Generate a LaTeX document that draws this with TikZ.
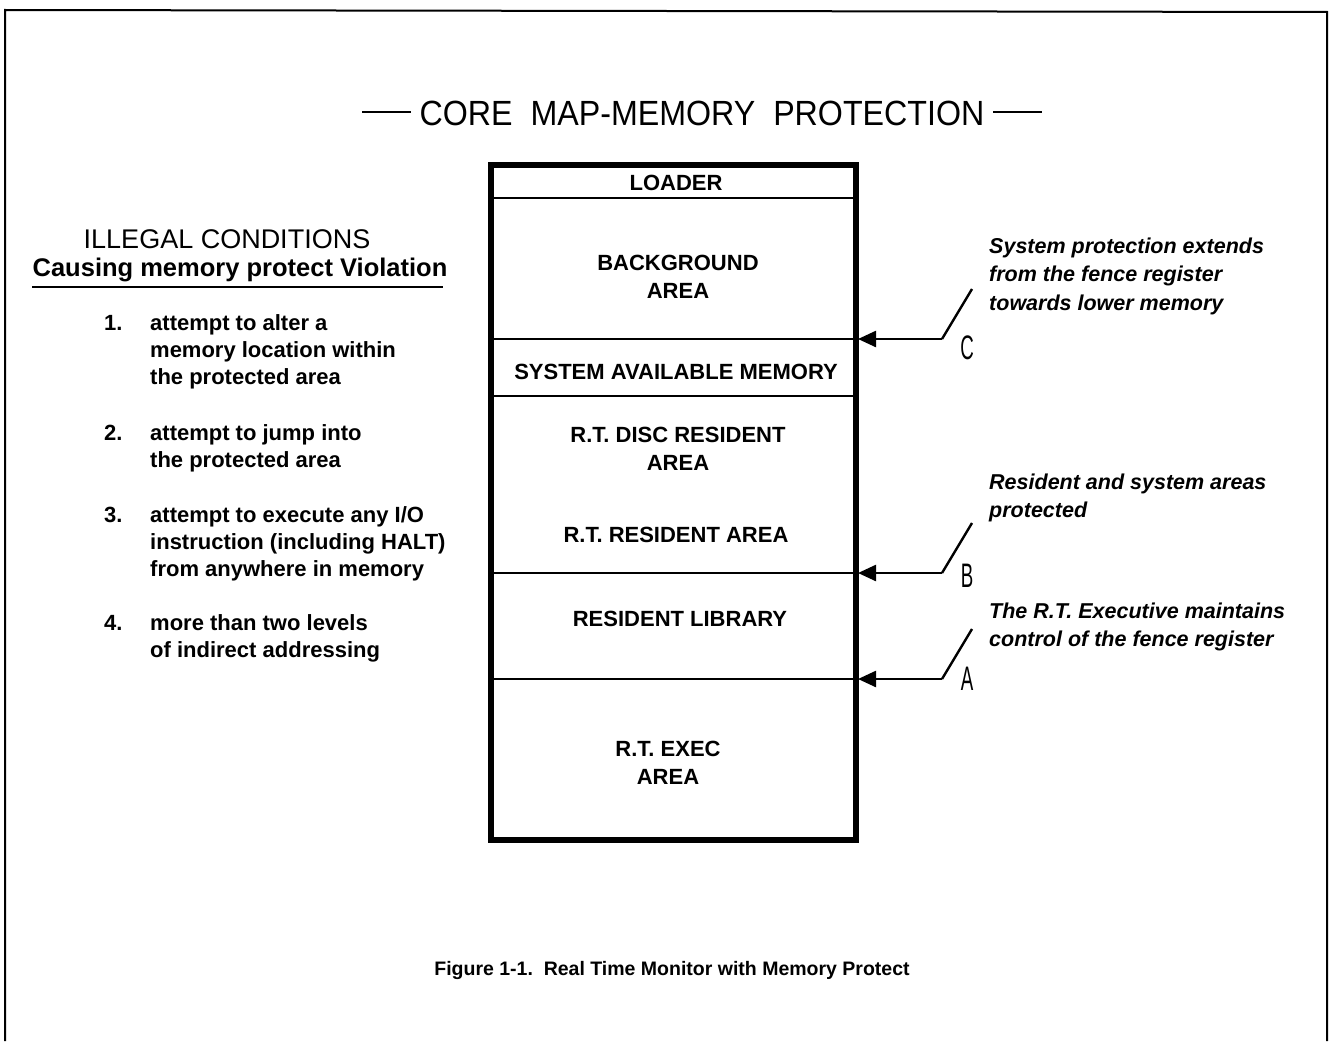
\documentclass[tikz,border=0pt]{standalone}
\usepackage{fontspec}
\setmainfont{Liberation Sans}
\usepackage{tikz}
\usetikzlibrary{arrows.meta,positioning,calc}
% lines stacked from the first baseline down
\newcommand{\stack}[1]{\begin{tabular}[t]{@{}l@{}}#1\end{tabular}}

\begin{document}
\begin{tikzpicture}[x=1pt, y=-1pt,
  area/.style={font=\fontsize{22}{28}\selectfont\bfseries, align=center},
  item/.style={font=\fontsize{22}{27.3}\selectfont\bfseries, anchor=base west, inner sep=0pt},
  note/.style={font=\fontsize{21.5}{28.5}\selectfont\bfseries\itshape, anchor=base west, inner sep=0pt},
  tag/.style={font=\fontsize{34}{34}\selectfont, xscale=0.55},
  fence/.style={line width=2.4pt, -{Triangle[length=18pt,width=16pt]}}]
  \useasboundingbox (0,0) rectangle (1329,1041);
  % page frame
  \draw[line width=2pt] (5,1041) -- (5,10) -- (1327,12) -- (1327,1041);
  \node[font=\fontsize{35}{35}\selectfont, xscale=0.92] (title) at (702,113)
    {\rule[0.33em]{1.5em}{2.4pt}\ CORE\ \ MAP-MEMORY\ \ PROTECTION\ \rule[0.33em]{1.5em}{2.4pt}};

  % core map
  \draw[line width=6pt] (491,165) rectangle (856,840);
  \foreach \y in {198,339,396,573,679}
    \draw[line width=2.2pt] (491,\y) -- (856,\y);
  \node[area] (loader) at (676,183) {LOADER};
  \node[area] (backgr) at (678,277) {BACKGROUND\\AREA};
  \node[area] (sysmem) at (676,372) {SYSTEM AVAILABLE MEMORY};
  \node[area] (disc)   at (678,449) {R.T. DISC RESIDENT\\AREA};
  \node[area] (resid)  at (676,535) {R.T. RESIDENT AREA};
  \node[area] (libr)   at (680,619) {RESIDENT LIBRARY};
  \node[area] (exec)   at (668,763) {R.T. EXEC\\AREA};

  % illegal conditions
  \node[font=\fontsize{27}{27}\selectfont] (illegal) at (227,239) {ILLEGAL CONDITIONS};
  \node[font=\fontsize{25.5}{25.5}\selectfont\bfseries] (causing) at (240,270) {Causing memory protect Violation};
  \draw[line width=2pt] (32,287) -- (443,287);
  \foreach \n/\y/\t in {1/330/{attempt to alter a\\memory location within\\the protected area},
                        2/440/{attempt to jump into\\the protected area},
                        3/522/{attempt to execute any I/O\\instruction (including HALT)\\from anywhere in memory},
                        4/630/{more than two levels\\of indirect addressing}} {
    \node[item] (num\n) at (104,\y) {\n.};
    \node[item] (cond\n) at (150,\y) {\stack{\t}};
  }

  % fence register pointers
  \foreach \k/\y/\ty/\t/\ny in {C/339/348/{System protection extends\\from the fence register\\towards lower memory}/253,
                                B/573/576/{Resident and system areas\\protected}/489,
                                A/679/679/{The R.T. Executive maintains\\control of the fence register}/618} {
    \coordinate (fence\k) at (858,\y);
    \coordinate (knee\k) at (942,\y);
    \coordinate (top\k) at (972,\y-50);
    \draw[fence] (knee\k) -- (fence\k);
    \draw[line width=2.4pt] (knee\k) -- (top\k);
    \node[tag] (tag\k) at (967,\ty) {\k};
    \node[note] (note\k) at (989,\ny) {\stack{\t}};
  }

  \node[font=\fontsize{19.5}{19.5}\selectfont\bfseries] (caption) at (672,970)
    {Figure 1-1.\ \ Real Time Monitor with Memory Protect};
\end{tikzpicture}
\end{document}
